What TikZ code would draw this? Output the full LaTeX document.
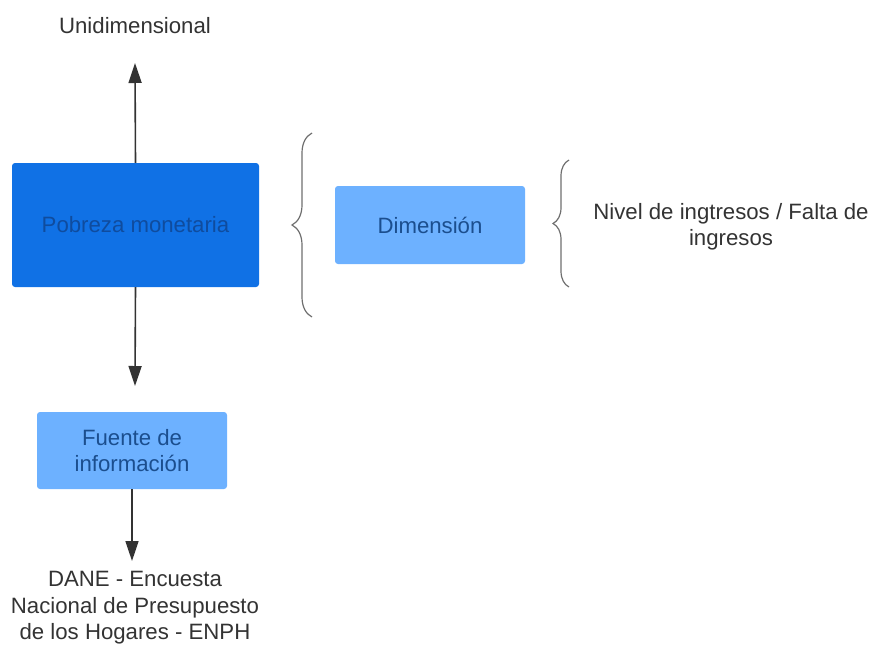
\documentclass[tikz,border=0pt]{standalone}
\usepackage{fontspec}
\setmainfont{Liberation Sans}
\usepackage{tikz}
\usetikzlibrary{decorations.pathreplacing,arrows.meta}

\definecolor{darkfill}{HTML}{1071E5}
\definecolor{darktext}{HTML}{0F4C9E}
\definecolor{lightfill}{HTML}{6DB1FF}
\definecolor{lighttext}{HTML}{1B4E8E}
\definecolor{inkgray}{HTML}{333333}
\definecolor{bracegray}{HTML}{6E6E6E}

\tikzset{
    darkbox/.style={fill=darkfill, text=darktext, rounded corners=3pt, inner sep=0pt,
        minimum width=247pt, minimum height=124pt, align=center},
    lightbox/.style={fill=lightfill, text=lighttext, rounded corners=3pt, inner sep=0pt,
        minimum width=190pt, minimum height=78pt, align=center},
    plain/.style={text=inkgray, inner sep=0pt, align=center},
    link/.style={draw=inkgray, line width=1.6pt, -{Triangle[width=13pt,length=20pt]}},
    curly/.style={draw=bracegray, line width=1.2pt, decorate}
}

\begin{document}
\begin{tikzpicture}[x=1pt, y=-1pt, font=\fontsize{22.2}{26.5}\selectfont]
    \useasboundingbox (0,0) rectangle (874,646);

    % draw boxes
    \node[darkbox] (pobreza) at (135.5,225) {Pobreza monetaria};
    \node[lightbox] (dimension) at (430,225) {Dimensión};
    \node[lightbox, minimum height=77pt] (fuente) at (132,450.5) {Fuente de\\información};

    % draw labels
    \node[plain] (unidim) at (135,26) {Unidimensional};
    \node[plain] (nivel) at (731,227) {Nivel de ingtresos / Falta de\\ingresos};
    \node[plain] (dane) at (135,608) {DANE - Encuesta\\Nacional de Presupuesto\\de los Hogares - ENPH};

    % free ends of the arrows
    \coordinate (uptip) at (135,63);
    \coordinate (downtip) at (135,386);
    \coordinate (danetip) at (132,561);

    % draw arrows
    \draw[link] (pobreza.north) -- (uptip);
    \draw[link] (pobreza.south) -- (downtip);
    \draw[link] (fuente.south) -- (danetip);

    % draw braces
    \draw[curly, decoration={brace, amplitude=20pt}] (312,317) -- (312,133);
    \draw[curly, decoration={brace, amplitude=16pt}] (569,287) -- (569,160);
\end{tikzpicture}
\end{document}
